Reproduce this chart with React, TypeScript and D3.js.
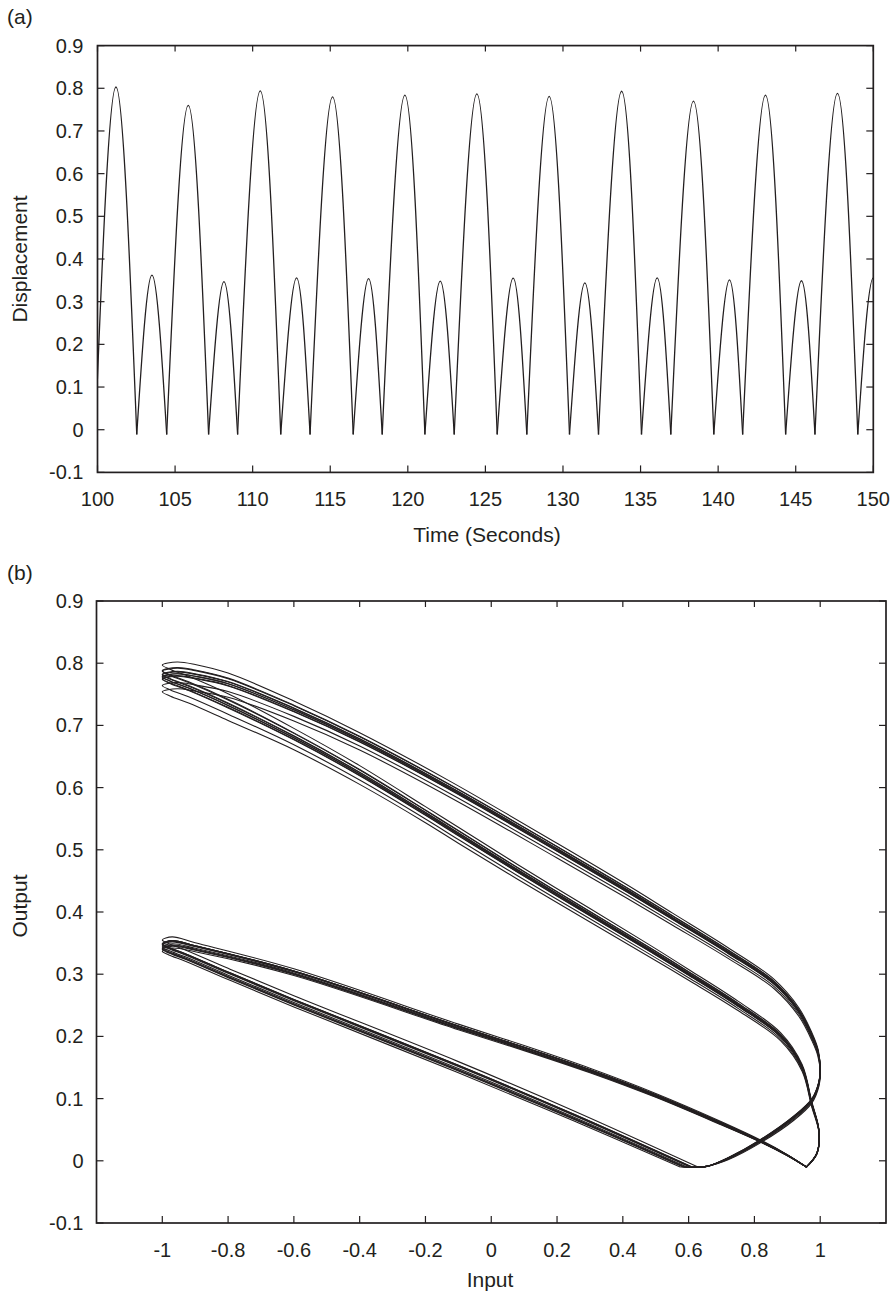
import React from 'react';
import * as d3 from 'd3';

const W = 895;
const H = 1294;
const INK = '#231f20';
const FONT = '"Liberation Sans", Arial, Helvetica, sans-serif';

// ---------- Panel (a): displacement vs time ----------
const timeTicks = [100, 105, 110, 115, 120, 125, 130, 135, 140, 145, 150];
const dispTicks = [-0.1, 0, 0.1, 0.2, 0.3, 0.4, 0.5, 0.6, 0.7, 0.8, 0.9];

// big peaks (input = -1, large response) and small peaks
const bigPeakTimes = [101.19, 105.85, 110.49, 115.15, 119.81, 124.45, 129.11, 133.78, 138.41, 143.05, 147.69];
const bigPeaks = [0.803, 0.76, 0.794, 0.78, 0.784, 0.787, 0.781, 0.793, 0.77, 0.784, 0.788];
const smallPeakTimes = [103.51, 108.15, 112.83, 117.47, 122.09, 126.79, 131.41, 136.07, 140.73, 145.37, 150.0];
const smallPeaks = [0.362, 0.347, 0.356, 0.354, 0.348, 0.355, 0.344, 0.356, 0.351, 0.349, 0.356];
// troughs (first and last lie just outside the window)
const troughTimes = [99.85, 102.53, 104.46, 107.16, 109.03, 111.81, 113.7, 116.48, 118.35, 121.1, 122.99, 125.76, 127.67, 130.42, 132.29, 135.06, 136.95, 139.72, 141.58, 144.35, 146.24, 149.0, 150.9];
const troughValue = -0.011;

// ---------- Panel (b): output vs input ----------
const inputTicks = [-1, -0.8, -0.6, -0.4, -0.2, 0, 0.2, 0.4, 0.6, 0.8, 1];
const outputTicks = [-0.1, 0, 0.1, 0.2, 0.3, 0.4, 0.5, 0.6, 0.7, 0.8, 0.9];

// [input, output, output sensitivity to the cycle's peak, input sensitivity]
const bigRiseRight = [
  [0.655, -0.009, 0],
  [0.72, 0.004, 0.1],
  [0.817, 0.032, 0.15],
  [0.92, 0.07, 0.2],
  [0.975, 0.098, 0.2],
  [0.996, 0.125, 0.22],
];
const outerBand = [
  [1.0, 0.147, 0.25],
  [0.993, 0.175, 0.28],
  [0.975, 0.2, 0.3],
  [0.935, 0.24, 0.32],
  [0.86, 0.285, 0.35],
  [0.72, 0.335, 0.4],
  [0.55, 0.39, 0.45],
  [0.41, 0.435, 0.5],
  [0.2, 0.5, 0.55],
  [-0.126, 0.599, 0.6],
  [-0.4, 0.676, 0.65],
  [-0.6, 0.725, 0.75],
  [-0.8, 0.767, 0.9],
  [-0.9, 0.779, 1.0],
];
// tip of the upper loop: [input, offset from the peak]
const bigTip = [
  [-0.955, -0.001],
  [-1.0, -0.006],
  [-0.975, -0.013],
  [-0.92, -0.024],
];
const innerBand = [
  [-0.8, 0.732, 1.0],
  [-0.6, 0.68, 0.8],
  [-0.4, 0.622, 0.7],
  [-0.2, 0.558, 0.6],
  [-0.1, 0.525, 0.6],
  [0.08, 0.466, 0.55],
  [0.3, 0.396, 0.5],
  [0.48, 0.339, 0.45],
  [0.6, 0.3, 0.4],
  [0.75, 0.25, 0.35],
  [0.88, 0.2, 0.3],
  [0.945, 0.15, 0.25],
  [0.974, 0.092, 0.2],
  [0.996, 0.048, 0.1],
  [0.99, 0.012, 0.05],
  [0.958, -0.01, 0],
];
const smallUpper = [
  [0.958, -0.01, 0],
  [0.9, 0.009, 0.1],
  [0.817, 0.032, 0.2],
  [0.7, 0.06, 0.3],
  [0.5, 0.105, 0.35],
  [0.3, 0.145, 0.4],
  [0.1, 0.181, 0.45],
  [-0.1, 0.215, 0.5],
  [-0.6, 0.303, 0.6],
  [-0.9, 0.343, 0.8],
];
const smallTip = [
  [-0.97, -0.002],
  [-1.0, -0.007],
  [-0.98, -0.013],
  [-0.93, -0.023],
];
const smallLower = [
  [-0.8, 0.3, 1.0],
  [-0.6, 0.256, 1.0],
  [-0.1, 0.15, 1.0],
  [0.25, 0.072, 0.9],
  [0.6, -0.01, 0, 3],
];

type P = [number, number];

// ---------- geometry ----------
const A = { left: 97.5, right: 873.3, top: 45.6, bottom: 472.4 };
const B = { left: 96.5, right: 886, top: 601, bottom: 1223 };

const xA = d3.scaleLinear().domain([100, 150]).range([A.left, A.right]);
const yA = d3.scaleLinear().domain([-0.1, 0.9]).range([A.bottom, A.top]);
const xB = d3.scaleLinear().domain([-1.2, 1.2]).range([B.left, B.right]);
const yB = d3.scaleLinear().domain([-0.1, 0.9]).range([B.bottom, B.top]);

const lineA = d3
  .line<P>()
  .x((d) => xA(d[0]))
  .y((d) => yA(d[1]))
  .curve(d3.curveNatural);
const lineB = d3
  .line<P>()
  .x((d) => xB(d[0]))
  .y((d) => yB(d[1]))
  .curve(d3.curveCatmullRom.alpha(0.5));

// interleave peaks in time order
const peakTimes: number[] = [];
const peakValues: number[] = [];
bigPeakTimes.forEach((t, i) => {
  peakTimes.push(t, smallPeakTimes[i]);
  peakValues.push(bigPeaks[i], smallPeaks[i]);
});
const arcsA = peakTimes.map((t, i) =>
  lineA([
    [troughTimes[i], troughValue],
    [t, peakValues[i]],
    [troughTimes[i + 1], troughValue],
  ])
);

const meanBig = d3.mean(bigPeaks) as number;
const meanSmall = d3.mean(smallPeaks) as number;
const shift = (pts: number[][], dev: number): P[] =>
  pts.map((p) => [p[0] + (p[3] || 0) * dev, p[1] + p[2] * dev]);
const tip = (pts: number[][], peak: number): P[] => pts.map((p) => [p[0], peak + p[1]]);

const arcsB: string[] = [];
{
  let cusp: P | null = null;
  for (let k = 0; k < bigPeaks.length; k++) {
    const pb = bigPeaks[k];
    const db = pb - meanBig;
    const big: P[] = [];
    if (cusp) big.push(cusp, ...shift(bigRiseRight, db));
    big.push(...shift(outerBand, db), ...tip(bigTip, pb), ...shift(innerBand, db));
    arcsB.push(lineB(big) as string);

    const ps = smallPeaks[k];
    const ds = ps - meanSmall;
    const last = k === smallPeaks.length - 1;
    const small: P[] = [...shift(smallUpper, ds)];
    if (last) {
      small.push(...tip(smallTip.slice(0, 2), ps));
    } else {
      small.push(...tip(smallTip, ps), ...shift(smallLower, ds));
      cusp = small[small.length - 1];
    }
    arcsB.push(lineB(small) as string);
  }
}

const fmt = (v: number) => String(v);

function Frame({ box, xTicks, yTicks, xs, ys }: any) {
  const tl = 7;
  const tt = 6;
  return (
    <g>
      {xTicks.map((v: number) => (
        <g key={'x' + v}>
          <line x1={xs(v)} x2={xs(v)} y1={box.bottom} y2={box.bottom - tl} stroke={INK} strokeWidth={1.2} />
          <line x1={xs(v)} x2={xs(v)} y1={box.top} y2={box.top + tt} stroke={INK} strokeWidth={1.2} />
          <text x={xs(v)} y={box.bottom + 33.5} textAnchor="middle" fontSize={20} fill={INK} fontFamily={FONT}>
            {fmt(v)}
          </text>
        </g>
      ))}
      {yTicks.map((v: number) => (
        <g key={'y' + v}>
          <line x1={box.left} x2={box.left + tl} y1={ys(v)} y2={ys(v)} stroke={INK} strokeWidth={1.2} />
          <line x1={box.right} x2={box.right - tl} y1={ys(v)} y2={ys(v)} stroke={INK} strokeWidth={1.2} />
          <text x={83.5} y={ys(v) + 7} textAnchor="end" fontSize={20} fill={INK} fontFamily={FONT}>
            {fmt(v)}
          </text>
        </g>
      ))}
      <rect
        x={box.left}
        y={box.top}
        width={box.right - box.left}
        height={box.bottom - box.top}
        fill="none"
        stroke={INK}
        strokeWidth={1.7}
      />
    </g>
  );
}

export default function App() {
  return (
    <svg
      width={W}
      height={H}
      viewBox={`0 0 ${W} ${H}`}
      style={{ position: 'absolute', left: 0, top: 0, background: '#fff' }}
    >
      <rect x={0} y={0} width={W} height={H} fill="#fff" />
      <defs>
        <clipPath id="clipA">
          <rect x={A.left} y={A.top} width={A.right - A.left} height={A.bottom - A.top} />
        </clipPath>
        <clipPath id="clipB">
          <rect x={B.left} y={B.top} width={B.right - B.left} height={B.bottom - B.top} />
        </clipPath>
      </defs>

      {/* Panel (a) */}
      <text x={7} y={23.5} fontSize={21} fill={INK} fontFamily={FONT}>
        (a)
      </text>
      <g clipPath="url(#clipA)">
        {arcsA.map((d, i) => (
          <path key={i} d={d as string} fill="none" stroke={INK} strokeWidth={1.3} />
        ))}
      </g>
      <Frame box={A} xTicks={timeTicks} yTicks={dispTicks} xs={xA} ys={yA} />
      <text x={487} y={541.7} textAnchor="middle" fontSize={21} fill={INK} fontFamily={FONT}>
        Time (Seconds)
      </text>
      <text
        transform={`translate(27,${(A.top + A.bottom) / 2}) rotate(-90)`}
        textAnchor="middle"
        fontSize={21}
        fill={INK}
        fontFamily={FONT}
      >
        Displacement
      </text>

      {/* Panel (b) */}
      <text x={7} y={580} fontSize={21} fill={INK} fontFamily={FONT}>
        (b)
      </text>
      <g clipPath="url(#clipB)">
        {arcsB.map((d, i) => (
          <path key={i} d={d} fill="none" stroke={INK} strokeWidth={1.1} />
        ))}
      </g>
      <Frame box={B} xTicks={inputTicks} yTicks={outputTicks} xs={xB} ys={yB} />
      <text x={490} y={1287} textAnchor="middle" fontSize={21} fill={INK} fontFamily={FONT}>
        Input
      </text>
      <text
        transform={`translate(27,906) rotate(-90)`}
        textAnchor="middle"
        fontSize={21}
        fill={INK}
        fontFamily={FONT}
      >
        Output
      </text>
    </svg>
  );
}
